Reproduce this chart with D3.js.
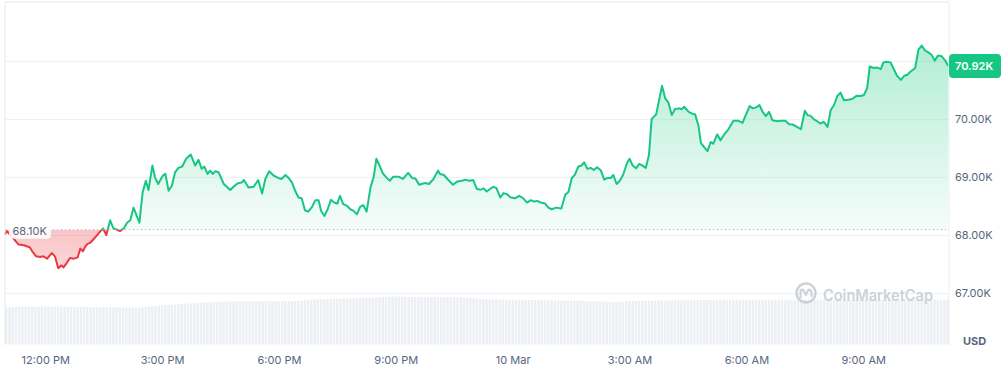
<!DOCTYPE html>
<html><head><meta charset="utf-8">
<script src="https://cdn.jsdelivr.net/npm/d3@7"></script>
<style>html,body{margin:0;padding:0;background:#fff;overflow:hidden}svg{display:block;font-family:Inter,"Noto Sans",sans-serif}</style>
</head><body><svg id="c" width="1001" height="369"></svg>
<script>
// minutes relative to 12:00 PM, 9 Mar
const priceMinutes = [-62,-59,-51,-41,-33,-24,-20,-14,-8,-3,3,10,15,20,25,28,33,38,44,50,54,58,62,65,69,74,80,85,89,94,100,105,110,115,121,126,131,136,140,145,150,155,159,165,169,174,181,185,190,195,200,205,211,217,224,231,236,241,245,250,254,258,262,267,275,285,290,296,303,306,313,321,328,334,339,345,352,359,364,370,375,380,385,390,395,400,405,411,416,421,425,430,435,440,445,450,454,459,465,470,475,480,485,490,495,501,506,510,515,520,526,531,536,544,551,559,565,570,576,585,591,598,605,608,614,621,628,635,642,647,653,659,665,671,675,680,685,690,695,701,706,711,717,724,730,736,742,748,753,758,763,770,775,780,787,795,801,806,811,816,821,826,830,835,840,845,850,856,861,866,871,875,880,885,890,896,900,905,910,915,920,925,930,934,941,950,955,960,965,970,977,980,984,991,996,1001,1006,1010,1015,1020,1025,1029,1035,1040,1046,1052,1060,1068,1074,1079,1085,1090,1095,1100,1105,1110,1115,1120,1128,1134,1140,1146,1151,1158,1164,1170,1174,1179,1184,1189,1194,1199,1205,1210,1215,1220,1225,1230,1235,1243,1250,1256,1261,1266,1270,1276,1281,1287,1291,1296,1302,1307,1312,1318,1323,1328,1333,1340,1345,1350,1355,1360,1365,1370,1375,1381,1386,1391];
const prices = [68023,68075,67970,67843,67831,67797,67727,67640,67628,67640,67600,67697,67640,67437,67484,67449,67524,67610,67600,67623,67774,67727,67814,67854,67871,67930,68005,68075,68122,68005,68261,68122,68104,68075,68122,68219,68261,68480,68365,68219,68741,68944,68783,69205,69002,68887,69031,69061,68770,68857,69089,69165,69188,69322,69396,69205,69304,69148,69188,69061,69118,69061,69106,69089,68887,68783,68840,68897,68915,68956,68828,68840,68956,68723,68974,69106,69031,68991,68974,69043,68991,68915,68770,68654,68643,68435,68410,68492,68609,68609,68423,68336,68452,68614,68567,68550,68683,68539,68510,68452,68423,68365,68492,68522,68410,68828,69014,69322,69205,69071,68991,68944,69014,69014,68974,69078,68991,68984,68875,68904,68887,68974,69118,69061,69043,68956,68875,68932,68944,68962,68944,68956,68800,68788,68814,68758,68800,68840,68817,68654,68730,68713,68654,68643,68683,68643,68567,68609,68584,68596,68567,68550,68480,68452,68480,68463,68701,68753,68991,69049,69188,69205,69262,69148,69165,69130,69176,69118,68962,68991,68991,69043,68887,68944,69043,69245,69322,69205,69158,69235,69205,69165,69391,70005,70087,70579,70365,70289,70075,70179,70191,70174,70219,70132,70104,70087,69901,69593,69523,69454,69610,69582,69744,69640,69744,69826,69976,69976,69941,70075,70231,70191,70208,70249,70132,70057,70132,69988,69970,69976,69976,69918,69913,69871,69831,70149,70075,70062,70000,69970,69930,69958,69871,70162,70249,70405,70462,70335,70335,70353,70410,70405,70422,70539,70915,70887,70897,70869,70984,70996,70984,70869,70753,70683,70753,70770,70828,70887,71205,71275,71193,71158,71118,71014,71101,71088,71019,70920];
const volumeStartMinute = -60;
const volumeStepMinutes = 5;
// 24h volume, billions USD
const volumes = [
37.3,37.6,37.4,37.5,37.8,37.6,37.5,37.9,37.7,37.6,
37.8,38.0,37.9,38.1,37.8,37.7,37.9,38.0,37.6,37.5,
37.7,37.6,37.4,37.5,37.7,37.6,37.3,37.4,37.5,37.3,
37.4,37.2,37.3,37.5,37.4,37.2,37.0,36.9,37.1,36.8,
36.7,36.9,37.2,37.6,38.0,38.3,38.5,38.7,39.0,39.3,
39.6,39.8,40.0,40.3,40.5,40.7,40.9,41.2,41.4,41.7,
41.8,42.0,42.1,42.3,42.5,42.6,42.7,42.8,42.9,43.0,
43.1,43.0,43.2,43.3,43.2,43.4,43.3,43.2,43.3,43.4,
43.3,43.2,43.4,43.3,43.1,43.2,43.3,43.4,43.3,43.4,
43.6,43.9,44.3,44.6,44.8,45.0,45.1,45.3,45.4,45.5,
45.6,45.7,45.7,45.9,46.0,46.1,46.3,46.4,46.5,46.6,
46.7,46.6,46.8,46.9,47.0,47.2,47.4,47.6,47.8,48.0,
48.1,48.2,48.0,47.8,47.6,47.5,47.4,47.3,47.4,47.3,
47.2,47.3,47.4,47.3,47.4,47.2,47.3,47.4,47.3,47.2,
47.3,47.1,46.9,46.6,46.3,46.0,45.8,45.5,45.3,45.1,
45.0,44.9,44.8,44.9,44.7,44.8,44.6,44.7,44.8,44.6,
44.5,44.6,44.4,44.5,44.3,44.2,44.3,44.1,44.2,44.0,
44.0,43.9,43.8,43.9,43.7,43.6,43.5,43.6,43.4,43.3,
43.3,43.2,43.1,43.0,42.9,42.8,42.8,42.7,42.7,42.8,
42.9,43.1,43.3,43.4,43.5,43.6,43.7,43.8,43.9,44.0,
44.0,44.1,44.0,44.1,44.2,44.1,44.2,44.3,44.2,44.3,
44.4,44.3,44.4,44.5,44.4,44.5,44.6,44.5,44.6,44.7,
44.6,44.7,44.8,44.7,44.6,44.7,44.8,44.7,44.6,44.7,
44.8,44.7,44.6,44.7,44.8,44.9,44.8,44.7,44.6,44.7,
44.8,44.7,44.6,44.5,44.6,44.7,44.8,44.7,44.6,44.5,
44.6,44.7,44.8,44.9,44.8,44.7,44.6,44.7,44.8,44.7,
44.6,44.7,44.8,44.7,44.6,44.5,44.6,44.7,44.8,44.7,
44.6,44.7,44.8,44.9,44.8,44.7,44.6,44.7,44.8,44.7,
44.6,44.7,44.8,44.7,44.9,44.8,44.7,44.6,44.7,44.8,
45.0];
const baselinePrice = 68100;
const lastPrice = 70920;
const gridValues = [67000,68000,69000,70000,71000];
const yTickValues = [67000,68000,69000,70000];
const xTickMinutes = [0,180,360,540,720,900,1080,1260];
const xTickLabels = ["12:00 PM","3:00 PM","6:00 PM","9:00 PM","10 Mar","3:00 AM","6:00 AM","9:00 AM"];

const GREEN = "#16c784", RED = "#ea3943", GRAY = "#58667e";
const L = 5, R = 949, T = 2, B = 344.5;
const svg = d3.select("#c");
const pts = priceMinutes.map((m,i)=>({m, p: prices[i]}));

const x = d3.scaleLinear().domain(d3.extent(priceMinutes)).range([L, 948.3]);
const y = d3.scaleLinear().domain([66120, 72025]).range([B, T]);
const v = d3.scaleLinear().domain([0, 60]).range([B, B-60]);
const by = y(baselinePrice);

const defs = svg.append("defs");
const gg = defs.append("linearGradient").attr("id","gg").attr("gradientUnits","userSpaceOnUse")
  .attr("x1",0).attr("x2",0).attr("y1",y(d3.max(prices))).attr("y2",by);
gg.append("stop").attr("offset","0").attr("stop-color",GREEN).attr("stop-opacity",0.33);
gg.append("stop").attr("offset","1").attr("stop-color",GREEN).attr("stop-opacity",0.04);
const rg = defs.append("linearGradient").attr("id","rg").attr("gradientUnits","userSpaceOnUse")
  .attr("x1",0).attr("x2",0).attr("y1",by).attr("y2",y(d3.min(prices)));
rg.append("stop").attr("offset","0").attr("stop-color",RED).attr("stop-opacity",0.3);
rg.append("stop").attr("offset","1").attr("stop-color",RED).attr("stop-opacity",0.2);
defs.append("clipPath").attr("id","cu").append("rect").attr("x",0).attr("y",0).attr("width",1001).attr("height",by);
defs.append("clipPath").attr("id","cd").append("rect").attr("x",0).attr("y",by).attr("width",1001).attr("height",369-by);

// gridlines
svg.append("g").selectAll("line").data(gridValues).join("line")
  .attr("x1",L).attr("x2",R).attr("y1",d=>y(d)).attr("y2",d=>y(d))
  .attr("stroke","#eff2f5").attr("stroke-width",1);

// volume bars
const pitch = x(volumeStepMinutes) - x(0);
svg.append("g").selectAll("rect").data(volumes).join("rect")
  .attr("x",(d,i)=>x(volumeStartMinute+i*volumeStepMinutes)-pitch/2+0.3)
  .attr("width",pitch-0.8)
  .attr("y",d=>v(d)).attr("height",d=>B-v(d))
  .attr("fill","#eceff3");

// watermark
const wm = svg.append("g").attr("opacity",0.9);
wm.append("circle").attr("cx",806).attr("cy",293).attr("r",9.5).attr("fill","none").attr("stroke","#c8ced7").attr("stroke-width",2.4);
wm.append("path").attr("transform","translate(806,293)")
  .attr("d","M-5.5,4.5 V-0.5 Q-5.5,-4.5 -2.8,-3 L0,2 Q2,-4.5 4,-3 Q5.6,-2 5.6,1.5 L5.6,3")
  .attr("fill","none").attr("stroke","#c8ced7").attr("stroke-width",2.2).attr("stroke-linecap","round").attr("stroke-linejoin","round");
wm.append("text").attr("x",823).attr("y",301).attr("font-size",15.5).attr("font-weight",600)
  .attr("textLength",110).attr("lengthAdjust","spacingAndGlyphs")
  .attr("fill","#c8ced7").text("CoinMarketCap");

// areas
const area = d3.area().x(d=>x(d.m)).y0(by).y1(d=>y(d.p));
svg.append("path").datum(pts).attr("d",area).attr("fill","url(#gg)").attr("clip-path","url(#cu)");
svg.append("path").datum(pts).attr("d",area).attr("fill","url(#rg)").attr("clip-path","url(#cd)");

// baseline dotted
svg.append("line").attr("x1",L).attr("x2",R).attr("y1",by).attr("y2",by)
  .attr("stroke","#a6b0c3").attr("stroke-width",1).attr("stroke-dasharray","1,3");

// lines
const line = d3.line().x(d=>x(d.m)).y(d=>y(d.p));
svg.append("path").datum(pts).attr("d",line).attr("fill","none").attr("stroke",GREEN).attr("stroke-width",2).attr("stroke-linejoin","round").attr("clip-path","url(#cu)");
svg.append("path").datum(pts).attr("d",line).attr("fill","none").attr("stroke",RED).attr("stroke-width",2).attr("stroke-linejoin","round").attr("clip-path","url(#cd)");

// frame
svg.append("line").attr("x1",L).attr("x2",L).attr("y1",T).attr("y2",B).attr("stroke","#e6e8eb");
svg.append("line").attr("x1",L).attr("x2",R).attr("y1",T).attr("y2",T).attr("stroke","#e6e8eb");
svg.append("line").attr("x1",R).attr("x2",R).attr("y1",T).attr("y2",B).attr("stroke","#eceef1");

// baseline label
const bl = svg.append("g");
bl.append("rect").attr("x",9).attr("y",by-8).attr("width",42).attr("height",17).attr("rx",4).attr("fill","#fff").attr("fill-opacity",0.88);
bl.append("text").attr("x",12.5).attr("y",by+1).attr("dy","0.35em").attr("font-size",11).attr("fill",GRAY).text((baselinePrice/1000).toFixed(2)+"K");

// y axis
const ya = svg.append("g").attr("transform",`translate(${R},0)`)
  .call(d3.axisRight(y).tickValues(yTickValues).tickSize(0).tickPadding(6).tickFormat(d=>(d/1000).toFixed(2)+"K"));
ya.select(".domain").remove();
ya.selectAll("text").attr("font-size",11).attr("fill",GRAY).attr("font-family","Inter");

// x axis
const xa = svg.append("g").attr("transform",`translate(0,${B})`)
  .call(d3.axisBottom(x).tickValues(xTickMinutes).tickSize(0).tickPadding(12).tickFormat((d,i)=>xTickLabels[i]));
xa.select(".domain").remove();
xa.selectAll("text").attr("font-size",11).attr("fill",GRAY).attr("font-family","Inter");

// last price label
const ly = y(lastPrice);
svg.append("rect").attr("x",R).attr("y",ly-12).attr("width",52).attr("height",24).attr("rx",4).attr("fill",GREEN);
svg.append("text").attr("x",955).attr("y",ly).attr("dy","0.35em").attr("font-size",11).attr("font-weight",600).attr("fill","#fff").text((lastPrice/1000).toFixed(2)+"K");

// currency
svg.append("text").attr("x",963).attr("y",345).attr("font-size",11).attr("font-weight",700).attr("fill",GRAY).text("USD");
</script></body></html>
